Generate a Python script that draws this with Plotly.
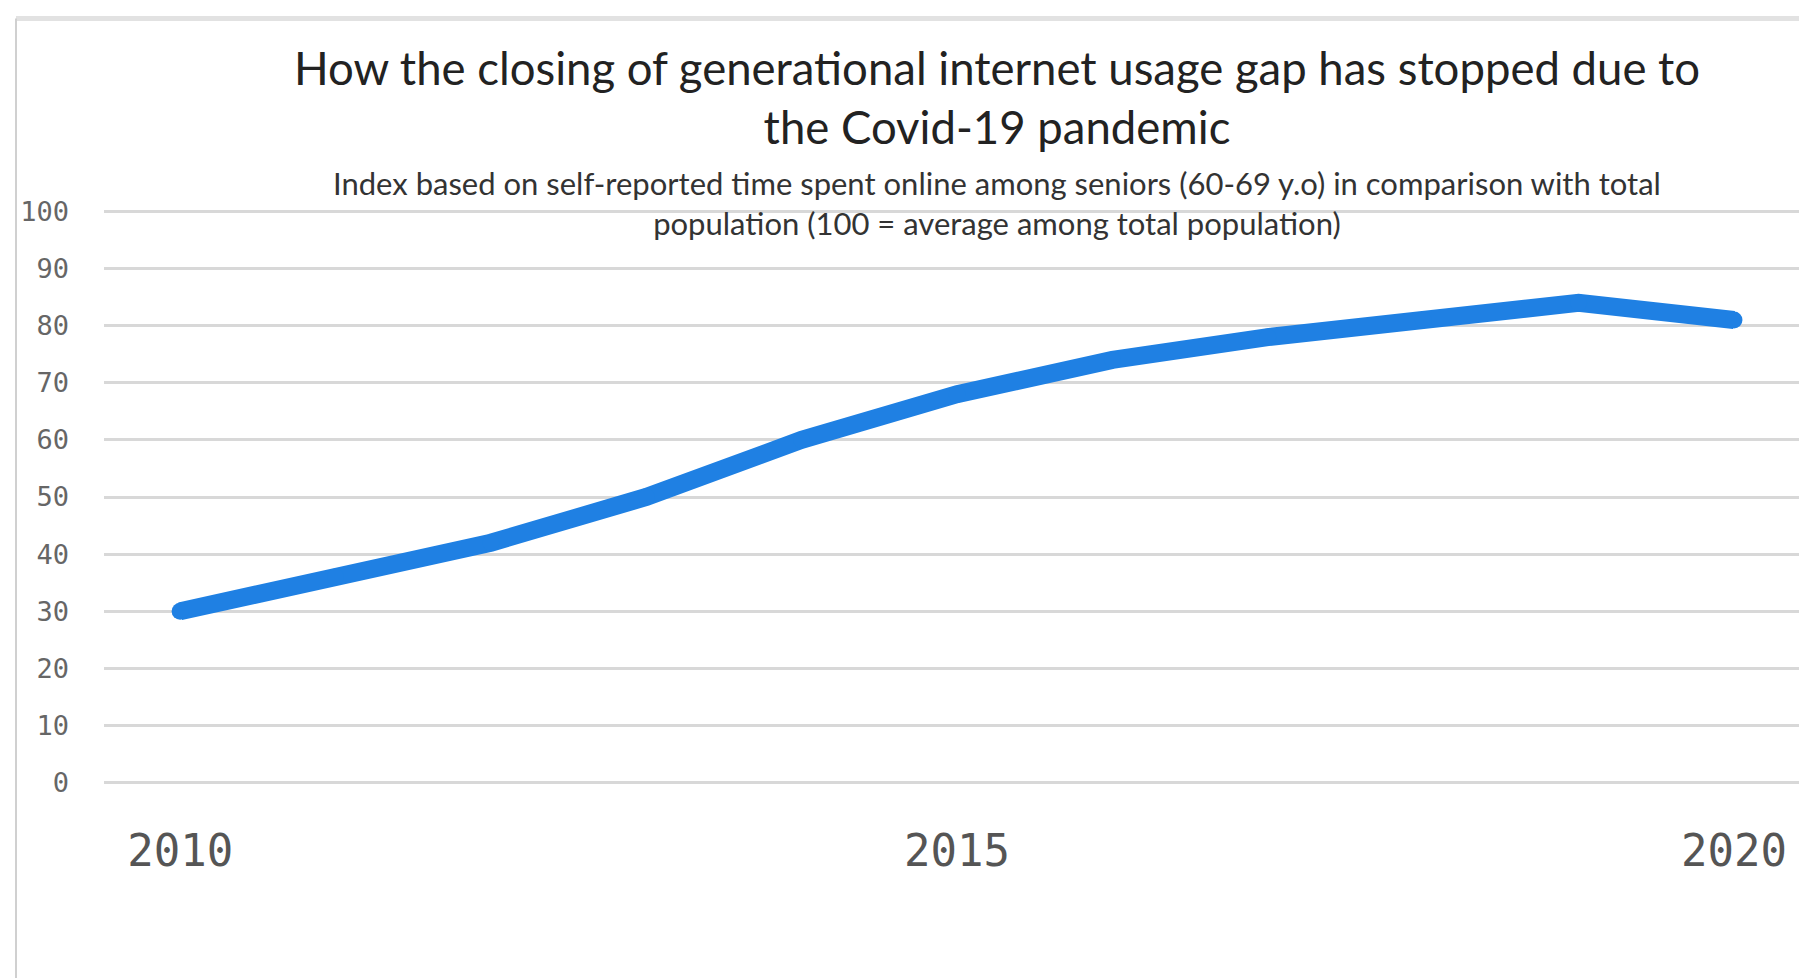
import plotly.graph_objects as go

years = [2010, 2011, 2012, 2013, 2014, 2015, 2016, 2017, 2018, 2019, 2020]
index_values = [30, 36, 42, 50, 60, 68, 74, 78, 81, 84, 81]
x_ticks = [2010, 2015, 2020]
y_ticks = [0, 10, 20, 30, 40, 50, 60, 70, 80, 90, 100]

title_text = ("How the closing of generational internet usage gap has stopped due to"
              "<br>the Covid-19 pandemic")
subtitle_text = ("Index based on self-reported time spent online among seniors (60-69 y.o) in comparison with total"
                 "<br>population (100 = average among total population)")

# the page body adds an 8px margin; work in page pixels and subtract it
OFF = 8
W, H = 1807 - OFF, 978 - OFF
PAD = 0.6  # extra y-range so edge gridlines show
unit = 571.5 / 100
L = 104 - OFF
T = 211 - OFF - PAD * unit
B = H - (782.5 - OFF) - PAD * unit
R = 0
pw, ph = W - L - R, H - T - B

def px_x(xp):
    return (xp - OFF - L) / pw

def px_y(yp):
    return (H - B - (yp - OFF)) / ph

font_txt = "Lato, Open Sans, sans-serif"
mono = "DejaVu Sans Mono, monospace"

fig = go.Figure()
fig.add_trace(go.Scatter(
    x=years, y=index_values, mode="lines+markers",
    line=dict(color="#1F80E3", width=18, shape="linear"),
    marker=dict(color="#1F80E3", size=17, line=dict(width=0)),
    hoverinfo="x+y", showlegend=False,
))

fig.update_layout(
    width=W, height=H,
    margin=dict(l=L, r=R, t=T, b=B, autoexpand=False),
    paper_bgcolor="white", plot_bgcolor="white",
    title=dict(text=title_text, x=(997 - OFF) / W, xref="container", xanchor="center",
               y=1 - (85 - OFF) / H, yref="container", yanchor="middle",
               font=dict(family=font_txt, size=45.5, color="#222222")),
    xaxis=dict(range=[2009.51, 2020.47], tickvals=x_ticks, ticktext=[str(v) for v in x_ticks],
               showgrid=False, zeroline=False, showline=False, ticks="",
               ticklabelstandoff=35,
               tickfont=dict(family=mono, size=44, color="#555555")),
    yaxis=dict(range=[-PAD, 100 + PAD], tickvals=y_ticks, showgrid=True, gridcolor="#d8d8d8", gridwidth=3,
               zeroline=False, showline=False, ticks="", ticklabelstandoff=34,
               tickfont=dict(family=mono, size=27, color="#666666")),
    annotations=[dict(text=subtitle_text, x=px_x(997), y=px_y(203), xref="paper", yref="paper",
                      xanchor="center", yanchor="middle", showarrow=False,
                      font=dict(family=font_txt, size=31, color="#333333"))],
    shapes=[
        dict(type="line", xref="paper", yref="paper", x0=px_x(16), x1=1.02, y0=px_y(18), y1=px_y(18),
             line=dict(color="#e2e2e2", width=5), layer="below"),
        dict(type="line", xref="paper", yref="paper", x0=px_x(16), x1=px_x(16), y0=px_y(18), y1=px_y(1000),
             line=dict(color="#d0d0d0", width=2), layer="below"),
    ],
)

fig.write_html("out.html")
